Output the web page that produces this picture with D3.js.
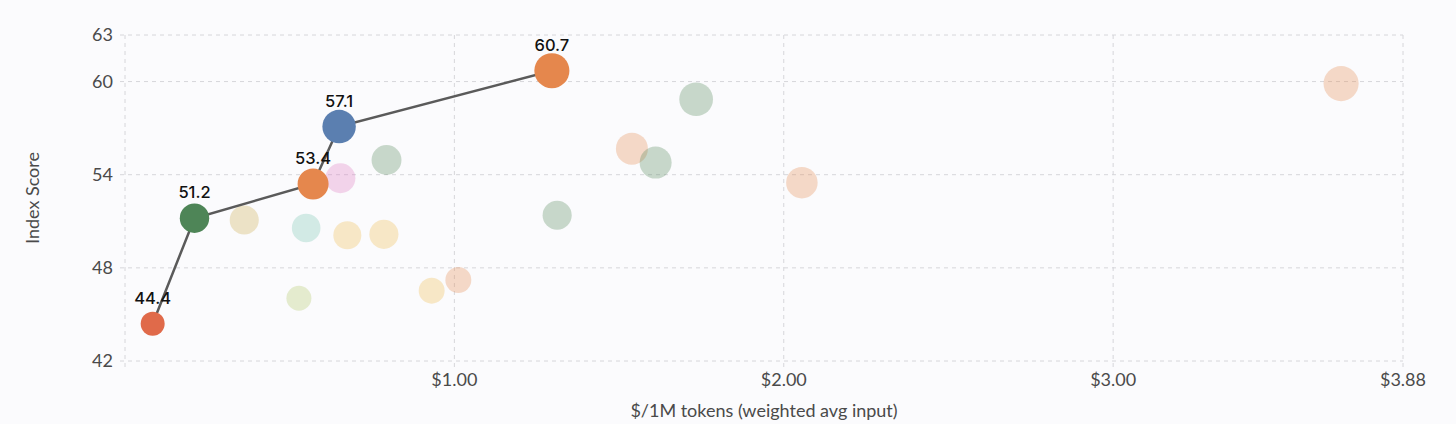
<!DOCTYPE html>
<html lang="en">
<head>
<meta charset="UTF-8">
<title>Index Score vs cost</title>
<script src="https://d3js.org/d3.v7.min.js"></script>
<style>
    body { margin: 0; background-color: #fbfbfd; font-family: Lato, "Noto Sans", sans-serif; }
    svg { display: block; }
    .grid line { stroke: #d6d6da; stroke-dasharray: 4,4; }
    .tick-label { fill: #4a4a4a; font-size: 18px; }
    .axis-title { fill: #4a4a4a; font-size: 18px; }
    .point-label { fill: #111; font-family: Inter, sans-serif; font-size: 16.5px; font-weight: 500; }
</style>
</head>
<body>
<div id="chart"></div>
<script>
    // frontier models (solid, connected)
    const frontierCost = [0.084, 0.211, 0.571, 0.650, 1.296];
    const frontierScore = [44.4, 51.2, 53.4, 57.1, 60.7];
    const frontierGroup = ["red", "green", "orange", "blue", "orange"];
    const frontierSize = [36, 54, 60, 70, 77];

    // other models (faded)
    const otherCost = [0.362, 0.550, 0.528, 0.654, 0.675, 0.786, 0.794, 0.931, 1.012, 1.312, 1.539, 1.611, 1.734, 2.055, 3.692];
    const otherScore = [51.08, 50.57, 46.04, 53.77, 50.10, 50.16, 54.95, 46.53, 47.22, 51.39, 55.68, 54.78, 58.86, 53.49, 59.87];
    const otherGroup = ["beige", "mint", "lime", "pink", "yellow", "yellow", "green", "yellow", "orange", "green", "orange", "green", "green", "orange", "orange"];
    const otherSize = [53, 51, 39, 56, 49, 53, 56, 42, 42, 53, 64, 64, 71, 62, 77];

    const xTicks = [0, 1, 2, 3, 3.88];
    const xTickLabels = ["", "$1.00", "$2.00", "$3.00", "$3.88"];
    const yTicks = [42, 48, 54, 60, 63];

    const groupColor = {
        red: "#e06a4a", green: "#4e8557", orange: "#e5874d", blue: "#5b7fb0",
        beige: "#caa948", mint: "#73c4b0", lime: "#afc762", pink: "#de77c1", yellow: "#efb948"
    };

    const width = 1456, height = 424;
    const margin = { top: 35, right: 53, bottom: 63, left: 125 };

    const x = d3.scaleLinear().domain([0, 3.88]).range([margin.left, width - margin.right]);
    const y = d3.scaleLinear().domain([42, 63]).range([height - margin.bottom, margin.top]);
    const r = d3.scaleSqrt().domain([0, 100]).range([0, 20]);

    const svg = d3.select("#chart").append("svg")
        .attr("width", width)
        .attr("height", height);

    // grid
    const grid = svg.append("g").attr("class", "grid");
    grid.selectAll(".h").data(yTicks).enter().append("line")
        .attr("x1", x(0) - 5).attr("x2", x(3.88))
        .attr("y1", d => y(d)).attr("y2", d => y(d));
    grid.selectAll(".v").data(xTicks).enter().append("line")
        .attr("x1", d => x(d)).attr("x2", d => x(d))
        .attr("y1", y(63)).attr("y2", y(42) + 6);

    // tick labels
    svg.append("g").selectAll("text").data(yTicks).enter().append("text")
        .attr("class", "tick-label")
        .attr("x", x(0) - 12)
        .attr("y", d => y(d))
        .attr("dy", "0.35em")
        .attr("text-anchor", "end")
        .text(d => d);

    svg.append("g").selectAll("text").data(xTicks).enter().append("text")
        .attr("class", "tick-label")
        .attr("x", d => x(d))
        .attr("y", y(42) + 19)
        .attr("dy", "0.35em")
        .attr("text-anchor", "middle")
        .text((d, i) => xTickLabels[i]);

    // axis titles
    svg.append("text")
        .attr("class", "axis-title")
        .attr("transform", `translate(33,${(y(42) + y(63)) / 2}) rotate(-90)`)
        .attr("dy", "0.35em")
        .attr("text-anchor", "middle")
        .text("Index Score");

    svg.append("text")
        .attr("class", "axis-title")
        .attr("x", (x(0) + x(3.88)) / 2)
        .attr("y", 411)
        .attr("dy", "0.35em")
        .attr("text-anchor", "middle")
        .text("$/1M tokens (weighted avg input)");

    // faded points
    const others = otherCost.map((c, i) => ({ cost: c, score: otherScore[i], group: otherGroup[i], size: otherSize[i] }));
    svg.append("g").selectAll("circle").data(others).enter().append("circle")
        .attr("cx", d => x(d.cost))
        .attr("cy", d => y(d.score))
        .attr("r", d => r(d.size))
        .attr("fill", d => groupColor[d.group])
        .attr("fill-opacity", 0.3);

    // frontier line
    const frontier = frontierCost.map((c, i) => ({ cost: c, score: frontierScore[i], group: frontierGroup[i], size: frontierSize[i] }));
    svg.append("path")
        .datum(frontier)
        .attr("fill", "none")
        .attr("stroke", "#5a5a5a")
        .attr("stroke-width", 2.5)
        .attr("d", d3.line().x(d => x(d.cost)).y(d => y(d.score)));

    svg.append("g").selectAll("circle").data(frontier).enter().append("circle")
        .attr("cx", d => x(d.cost))
        .attr("cy", d => y(d.score))
        .attr("r", d => r(d.size))
        .attr("fill", d => groupColor[d.group]);

    svg.append("g").selectAll("text").data(frontier).enter().append("text")
        .attr("class", "point-label")
        .attr("x", d => x(d.cost))
        .attr("y", d => y(d.score) - 25.6)
        .attr("dy", "0.35em")
        .attr("text-anchor", "middle")
        .text(d => d.score.toFixed(1));
</script>
</body>
</html>
